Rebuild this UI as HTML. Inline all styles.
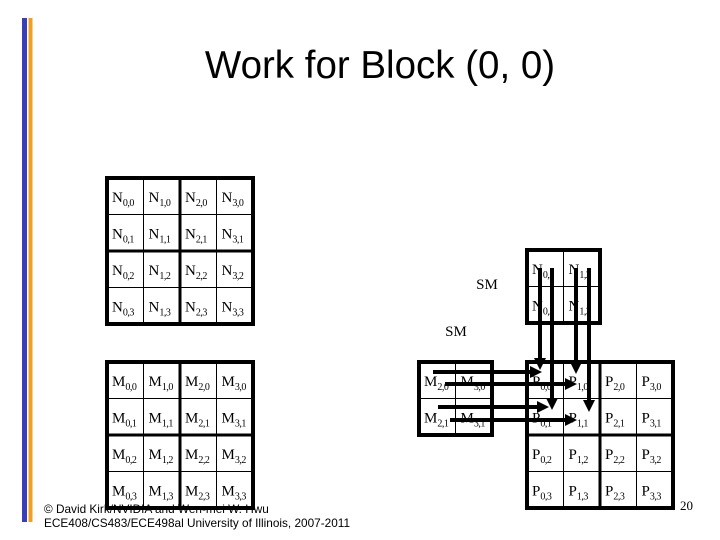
<!DOCTYPE html>
<html><head><meta charset="utf-8"><style>
html,body{margin:0;padding:0;background:#fff;}
svg{display:block;}
</style></head><body>
<svg width="720" height="540" xmlns="http://www.w3.org/2000/svg">
<rect x="22" y="18" width="5" height="504" fill="#3a3fb8"/>
<rect x="28.5" y="18" width="4" height="504" fill="#f0a020"/>
<text x="380" y="78" font-family="Liberation Sans, sans-serif" font-size="38.5" text-anchor="middle">Work for Block (0, 0)</text>

<g id="grids" font-family="Liberation Serif, serif" font-size="15"></g>

<text x="487" y="289" font-family="Liberation Serif, serif" font-size="15" text-anchor="middle">SM</text>
<text x="456" y="336" font-family="Liberation Serif, serif" font-size="15" text-anchor="middle">SM</text>

<g stroke="#000" stroke-width="4" fill="none">
<line x1="540" y1="268" x2="540" y2="360"/>
<line x1="552" y1="268" x2="552" y2="398"/>
<line x1="576" y1="268" x2="576" y2="362"/>
<line x1="589" y1="268" x2="589" y2="400"/>
<line x1="433" y1="372" x2="530" y2="372"/>
<line x1="445" y1="384" x2="565" y2="384"/>
<line x1="438" y1="407" x2="537" y2="407"/>
<line x1="450" y1="420" x2="565" y2="420"/>
</g>
<g fill="#000">
<polygon points="534,358 546,358 540,370"/>
<polygon points="546,398 558,398 552,410"/>
<polygon points="570,362 582,362 576,374"/>
<polygon points="583,400 595,400 589,412"/>
<polygon points="530,366 530,378 542,372"/>
<polygon points="565,378 565,390 577,384"/>
<polygon points="537,401 537,413 549,407"/>
<polygon points="565,414 565,426 577,420"/>
</g>

<text x="44" y="513" font-family="Liberation Sans, sans-serif" font-size="11.8">© David Kirk/NVIDIA and Wen-mei W. Hwu</text>
<text x="44" y="527" font-family="Liberation Sans, sans-serif" font-size="11.8">ECE408/CS483/ECE498al University of Illinois, 2007-2011</text>
<text x="680" y="510" font-family="Liberation Serif, serif" font-size="13">20</text>
</svg>
<script>
(function(){
var g=document.getElementById('grids');var ns='http://www.w3.org/2000/svg';
function el(t,a,txt){var e=document.createElementNS(ns,t);for(var k in a)e.setAttribute(k,a[k]);if(txt!=null)e.textContent=txt;g.appendChild(e);return e;}
function label(x,y,L,i,j){var t=el('text',{x:x,y:y});t.appendChild(document.createTextNode(L));var s=document.createElementNS(ns,'tspan');s.setAttribute('font-size','10');s.setAttribute('letter-spacing','-0.5');s.setAttribute('dy','4');s.textContent=i+','+j;t.appendChild(s);}
function grid(x0,y0,cols,rows,L,ci,rj,thick){var c=36.5;
 for(var r=0;r<rows;r++)for(var q=0;q<cols;q++){
  el('rect',{x:x0+q*c,y:y0+r*c,width:c,height:c,fill:'#fff',stroke:'#000','stroke-width':1});
  label(x0+q*c+5,y0+r*c+24,L,ci+q,rj+r);}
 if(thick){el('line',{x1:x0+2*c,y1:y0,x2:x0+2*c,y2:y0+rows*c,stroke:'#000','stroke-width':3});
 el('line',{x1:x0,y1:y0+2*c,x2:x0+cols*c,y2:y0+2*c,stroke:'#000','stroke-width':3});}
 el('rect',{x:x0,y:y0,width:cols*c,height:rows*c,fill:'none',stroke:'#000','stroke-width':4});}
grid(107,178,4,4,'N',0,0,true);
grid(107,362,4,4,'M',0,0,true);
grid(527,362,4,4,'P',0,0,true);
grid(527,250,2,2,'N',0,2,false);
grid(419,362,2,2,'M',2,0,false);
})();
</script>
</body></html>
